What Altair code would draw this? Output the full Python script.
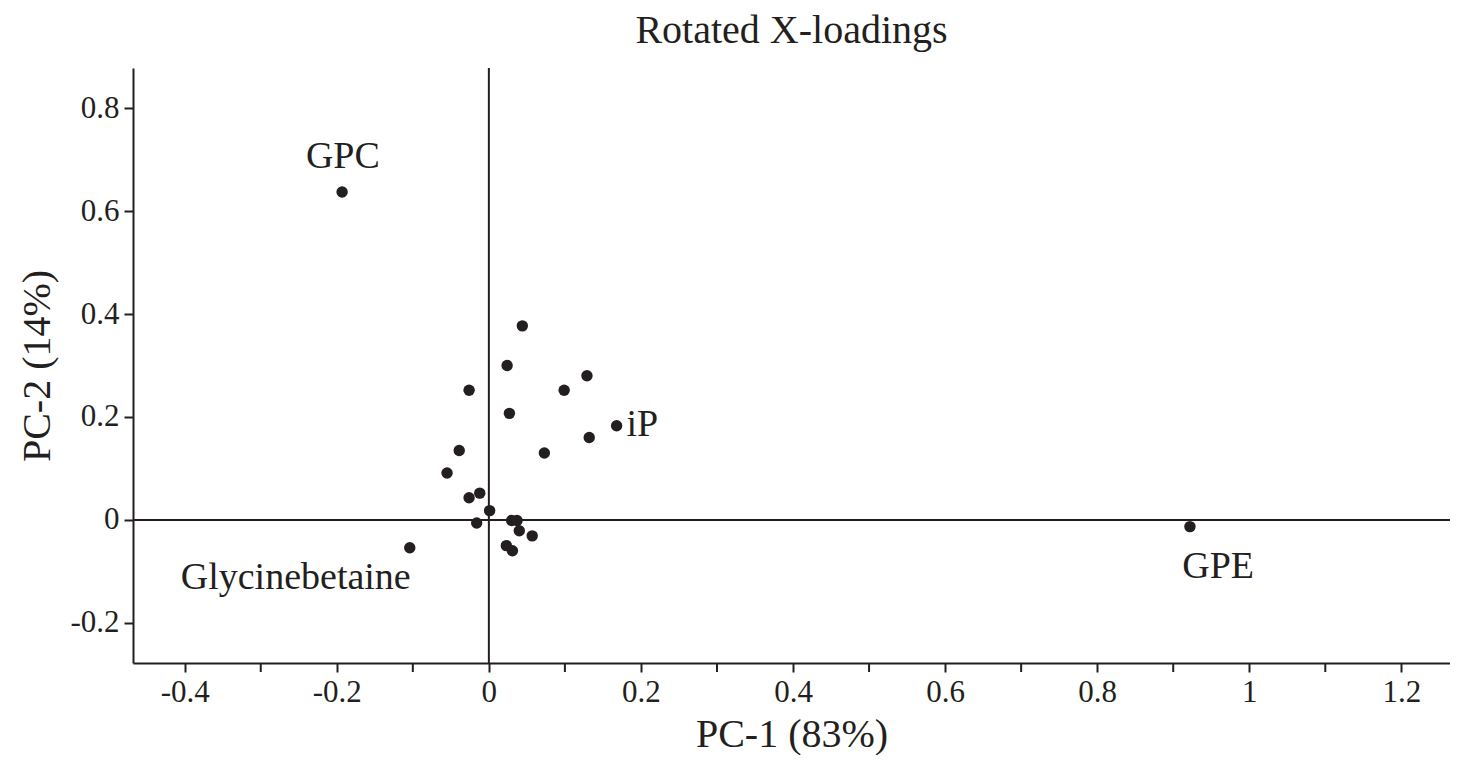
import altair as alt
import pandas as pd

# point loadings
pc1 = [-0.193, 0.922, -0.104, 0.044, 0.024, 0.129, -0.026, 0.099, 0.027, 0.168,
       0.132, -0.039, 0.073, -0.055, -0.026, -0.012, 0.001, -0.016, 0.030, 0.037,
       0.040, 0.057, 0.023, 0.031]
pc2 = [0.637, -0.013, -0.054, 0.377, 0.300, 0.280, 0.252, 0.252, 0.207, 0.183,
       0.160, 0.135, 0.130, 0.091, 0.043, 0.052, 0.018, -0.006, -0.001, -0.001,
       -0.021, -0.031, -0.050, -0.060]

# labels
label_text = ["GPC", "GPE", "Glycinebetaine", "iP"]
label_x = [-0.192, 0.959, -0.254, 0.181]
label_y = [0.705, -0.091, -0.113, 0.184]
label_align = ["center", "center", "center", "left"]

x_ticks = [-0.4, -0.2, 0, 0.2, 0.4, 0.6, 0.8, 1, 1.2]
x_minor = [-0.3, -0.1, 0.1, 0.3, 0.5, 0.7, 0.9, 1.1]
y_ticks = [-0.2, 0, 0.2, 0.4, 0.6, 0.8]

X_DOM = [-0.468, 1.264]
Y_DOM = [-0.278, 0.878]
FONT = "Liberation Serif"
INK = "#231f20"

pts = pd.DataFrame({"x": pc1, "y": pc2})
labs = pd.DataFrame({"x": label_x, "y": label_y, "t": label_text, "a": label_align})

xs = alt.Scale(domain=X_DOM, nice=False, zero=False)
ys = alt.Scale(domain=Y_DOM, nice=False, zero=False)

xaxis = alt.Axis(values=x_ticks, title="PC-1 (83%)", grid=False, tickSize=9,
                 labelExpr="'' + datum.value")
yaxis = alt.Axis(values=y_ticks, title="PC-2 (14%)", grid=False, tickSize=9,
                 labelExpr="'' + datum.value")

base_pts = alt.Chart(pts).mark_circle(size=130, color=INK, opacity=1).encode(
    x=alt.X("x:Q", scale=xs, axis=xaxis),
    y=alt.Y("y:Q", scale=ys, axis=yaxis),
)

minor = alt.Chart(pd.DataFrame({"x": x_minor})).mark_rule(color=INK, strokeWidth=2).encode(
    x=alt.X("x:Q", scale=xs),
    y=alt.value(595),
    y2=alt.value(604),
)

vzero = alt.Chart(pd.DataFrame({"x": [0]})).mark_rule(color=INK, strokeWidth=2).encode(
    x=alt.X("x:Q", scale=xs),
)
hzero = alt.Chart(pd.DataFrame({"y": [0]})).mark_rule(color=INK, strokeWidth=2).encode(
    y=alt.Y("y:Q", scale=ys),
)

lab_c = alt.Chart(labs[labs.a == "center"]).mark_text(
    font=FONT, fontSize=38, color=INK, align="center", baseline="middle"
).encode(x=alt.X("x:Q", scale=xs), y=alt.Y("y:Q", scale=ys), text="t:N")
lab_l = alt.Chart(labs[labs.a == "left"]).mark_text(
    font=FONT, fontSize=38, color=INK, align="left", baseline="middle"
).encode(x=alt.X("x:Q", scale=xs), y=alt.Y("y:Q", scale=ys), text="t:N")

chart = alt.layer(vzero, hzero, minor, base_pts, lab_c, lab_l).properties(
    width=1317,
    height=595,
    autosize=alt.AutoSizeParams(type="none"),
    padding={"left": 125, "top": 60, "right": 0, "bottom": 92},
    title=alt.TitleParams("Rotated X-loadings", font=FONT, fontSize=40,
                          fontWeight="normal", color=INK, offset=16),
).configure_view(stroke=None).configure_axis(
    domainColor=INK, domainWidth=2, tickColor=INK, tickWidth=2,
    labelFont=FONT, labelFontSize=31, labelColor=INK, labelPadding=5,
    titleFont=FONT, titleFontSize=40, titleFontWeight="normal", titleColor=INK,
).configure_axisX(titlePadding=7).configure_axisY(titlePadding=12)

chart.save("out.html", embed_options={"renderer": "svg", "actions": False})
